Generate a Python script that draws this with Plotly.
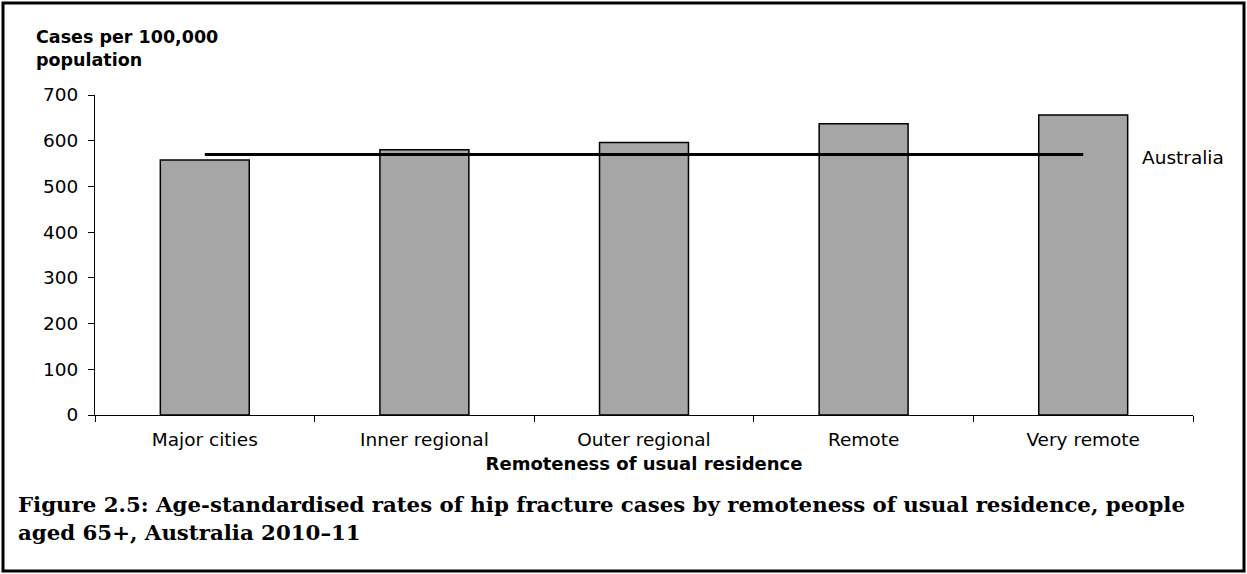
import plotly.graph_objects as go

categories = ["Major cities", "Inner regional", "Outer regional", "Remote", "Very remote"]
rates = [558, 580, 596, 637, 656]
australia_rate = [570, 570, 570, 570, 570]
y_ticks = [0, 100, 200, 300, 400, 500, 600, 700]

W, H = 1247, 574
L, R, T, B = 95, 54, 95, 159
pw, ph = W - L - R, H - T - B

def px(x):
    return (x - L) / pw

def py(y):
    return (H - B - y) / ph

fig = go.Figure()
fig.add_trace(go.Bar(
    x=categories, y=rates,
    marker=dict(color="#A6A6A6", line=dict(color="black", width=1.5)),
    showlegend=False, hoverinfo="x+y",
))
fig.add_trace(go.Scatter(
    x=categories, y=australia_rate, mode="lines",
    line=dict(color="black", width=3), showlegend=False,
))

font_sans = "DejaVu Sans"

fig.update_layout(
    width=W, height=H,
    margin=dict(l=L, r=R, t=T, b=B),
    paper_bgcolor="white", plot_bgcolor="white",
    bargap=0.595,
    font=dict(family=font_sans, size=18, color="black"),
    xaxis=dict(
        showline=True, linecolor="black", linewidth=1,
        ticks="outside", tickson="boundaries", ticklen=6, tickcolor="black",
        showgrid=False, zeroline=False, ticklabelstandoff=8,
        tickfont=dict(family=font_sans, size=18.5),
        title=dict(text="<b>Remoteness of usual residence</b>",
                   font=dict(family=font_sans, size=18), standoff=8),
    ),
    yaxis=dict(
        range=[0, 700], tickvals=y_ticks,
        showline=True, linecolor="black", linewidth=1,
        ticks="outside", ticklen=6, tickcolor="black",
        showgrid=False, zeroline=False, ticklabelstandoff=6,
        tickfont=dict(family=font_sans, size=18.5),
    ),
    annotations=[
        dict(text="<b>Cases per 100,000<br>population</b>", xref="paper", yref="paper",
             x=px(34), y=py(25), xanchor="left", yanchor="top", align="left",
             showarrow=False, font=dict(family=font_sans, size=17.5)),
        dict(text="Australia", xref="paper", yref="paper",
             x=px(1140), y=py(157), xanchor="left", yanchor="middle",
             showarrow=False, font=dict(family=font_sans, size=18.5)),
        dict(text="<b>Figure 2.5: Age-standardised rates of hip fracture cases by remoteness of usual residence, people<br>aged 65+, Australia 2010–11</b>",
             xref="paper", yref="paper", x=px(16), y=py(490), xanchor="left", yanchor="top",
             align="left", showarrow=False,
             font=dict(family="DejaVu Serif", size=21.3)),
    ],
    shapes=[
        dict(type="rect", xref="paper", yref="paper",
             x0=px(3), x1=px(1244), y0=py(571), y1=py(3),
             line=dict(color="black", width=3), fillcolor="rgba(0,0,0,0)"),
    ],
)

fig.write_html("out.html", config={"displayModeBar": False},
               post_script="document.body.style.margin='0px';document.body.style.overflow='hidden';")
